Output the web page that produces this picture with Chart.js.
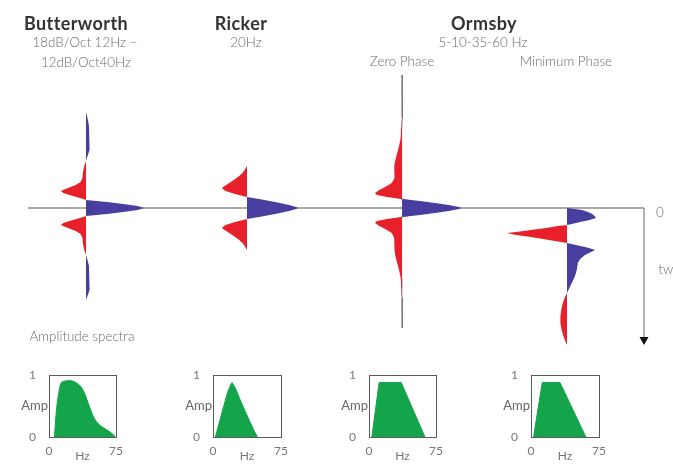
<!DOCTYPE html>
<html>
<head>
<meta charset="utf-8">
<script src="https://cdn.jsdelivr.net/npm/chart.js@4/dist/chart.umd.min.js"></script>
<style>
  html, body { margin:0; padding:0; background:#fff; overflow:hidden; }
  #wrap { position:relative; width:673px; height:466px; overflow:hidden; font-family: Lato, "Open Sans", sans-serif; }
  canvas { position:absolute; }
  .t { position:absolute; white-space:nowrap; transform:translate(-50%,-50%); line-height:1; }
  .h { font-weight:700; font-size:18px; color:#333; letter-spacing:0.4px; }
  .s { font-size:13.4px; color:#6a6a6a; font-weight:300; }
</style>
</head>
<body>
<div id="wrap">
  <canvas id="main"></canvas>
  <canvas id="sp0"></canvas>
  <canvas id="sp1"></canvas>
  <canvas id="sp2"></canvas>
  <canvas id="sp3"></canvas>
  <div class="t h" style="left:76px;top:23px">Butterworth</div>
  <div class="t s" style="left:85px;top:43px">18dB/Oct 12Hz –</div>
  <div class="t s" style="left:86px;top:63px">12dB/Oct40Hz</div>
  <div class="t h" style="left:241px;top:23px">Ricker</div>
  <div class="t s" style="left:246px;top:43px">20Hz</div>
  <div class="t h" style="left:484px;top:23px">Ormsby</div>
  <div class="t s" style="left:483px;top:43px">5-10-35-60 Hz</div>
  <div class="t s" style="left:402px;top:62px">Zero Phase</div>
  <div class="t s" style="left:566px;top:62px">Minimum Phase</div>
  <div class="t s" style="left:82px;top:337px">Amplitude spectra</div>
  <div class="t s" style="left:660px;top:213px">0</div>
  <div class="t s" style="left:668px;top:270px">twt</div>
</div>
<script>
// ---------- DATA ----------
// Wavelets: time (ms, 0 = the horizontal line) and normalised amplitude
const BW_T = [-96,-90,-82,-74,-66,-58,-52,-47,-42,-36,-30,-26,-23,-20,-17,-15,-12,-10,-8,-6,-4,-2,0,2,4,6,8,10,12,15,17,20,23,26,30,36,42,47,52,58,66,74,82,88,92];
const BW_A = [0,0.025,0.05,0.065,0.065,0.05,0.025,0,-0.03,-0.05,-0.06,-0.09,-0.17,-0.3,-0.42,-0.38,-0.22,-0.1,0,0.35,0.62,0.86,0.97,0.86,0.62,0.35,0,-0.1,-0.22,-0.38,-0.42,-0.3,-0.17,-0.09,-0.06,-0.05,-0.03,0,0.025,0.05,0.065,0.065,0.05,0.025,0];

const RK_T = [-42,-36,-32,-28,-24,-20,-17,-14,-11,-9,-7,-5,-3,-1,0,1,3,5,7,9,11,14,17,20,24,28,32,36,42];
const RK_A = [0,-0.06,-0.13,-0.22,-0.32,-0.42,-0.36,-0.2,0,0.2,0.38,0.55,0.7,0.82,0.85,0.82,0.7,0.55,0.38,0.2,0,-0.2,-0.36,-0.42,-0.32,-0.22,-0.13,-0.06,0];

const OZ_T = [-133,-120,-110,-100,-90,-80,-70,-62,-55,-48,-42,-36,-30,-25,-21,-18,-15,-13,-11,-9,-7,-5,-3,-1,0,1,3,5,7,9,11,13,15,18,21,25,30,36,42,48,55,62,70,80,90,100,110,120];
const OZ_A = [0,0.01,0.015,0.01,0,-0.01,-0.02,-0.05,-0.08,-0.11,-0.13,-0.12,-0.13,-0.17,-0.28,-0.38,-0.45,-0.42,-0.25,0,0.3,0.55,0.78,0.95,1.0,0.95,0.78,0.55,0.3,0,-0.25,-0.42,-0.45,-0.38,-0.28,-0.17,-0.13,-0.12,-0.13,-0.11,-0.08,-0.05,-0.02,-0.01,0,0.01,0.015,0];

const MP_T = [0,2,4,6,8,10,12,14,16,17,18,20,22,24,25,27,29,31,33,35,37,39,41,42,44,47,51,55,60,65,70,75,80,85,90,95,100,108,115,122,128,133,137];
const MP_A = [0,0.25,0.35,0.42,0.46,0.48,0.38,0.22,0.08,0,-0.15,-0.35,-0.6,-0.85,-1.0,-0.85,-0.6,-0.4,-0.2,0,0.15,0.3,0.42,0.47,0.4,0.3,0.22,0.18,0.17,0.15,0.12,0.08,0.04,0,-0.04,-0.07,-0.09,-0.11,-0.11,-0.09,-0.06,-0.03,0];

// Amplitude spectra: frequency (Hz) and amplitude (0..1)
const SP_BW_F = [6,8.5,11,13,16.6,20,25,29,33,36,40,45,50,55.5,61,68,74];
const SP_BW_A = [0,0.46,0.72,0.86,0.9,0.91,0.91,0.89,0.85,0.81,0.7,0.5,0.32,0.21,0.15,0.085,0.01];
const SP_RK_F = [2.6,10,16,20,21,25,30,35,40,45,49];
const SP_RK_A = [0,0.4,0.72,0.86,0.88,0.78,0.6,0.43,0.27,0.11,0];
const SP_OZ_F = [3.2,11.3,36.1,62.6];
const SP_OZ_A = [0,0.88,0.88,0];
const SP_MP_F = [2.8,12.4,32,60.5];
const SP_MP_A = [0,0.88,0.88,0];

const SPEC_X_TICKS = [0, 75];
const SPEC_Y_TICKS = [0, 1];

// ---------- LAYOUT / STYLE ----------
const W = 673, H = 466;
const TRACE_X = [86, 247, 402, 567];   // trace positions (layout units)
const GAIN = 60;                        // layout units per unit amplitude
const BLUE = 'rgb(72,62,160)';
const RED = 'rgb(232,32,42)';
const GREEN = 'rgb(20,165,74)';
const AXIS_LEFT = 28, AXIS_RIGHT = 644, TWT_END = 137;
const BOXES = [[49,120,363,437],[213,285,363,437],[369,440,363,437],[531,603,363,437]];

// ---------- MAIN WAVELET CHART ----------
const mainCanvas = document.getElementById('main');
mainCanvas.style.left = '0px'; mainCanvas.style.top = '0px';
mainCanvas.width = W; mainCanvas.height = H;

function parts(T, A, x0) {
  return {
    pos: T.map((t, i) => ({ x: x0 + GAIN * Math.max(A[i], 0), y: t })),
    neg: T.map((t, i) => ({ x: x0 + GAIN * Math.min(A[i], 0), y: t }))
  };
}
const waves = [[BW_T, BW_A], [RK_T, RK_A], [OZ_T, OZ_A], [MP_T, MP_A]];
const datasets = [];
waves.forEach(([T, A], k) => {
  const p = parts(T, A, TRACE_X[k]);
  datasets.push({ data: p.pos, showLine: true, fill: 'shape', backgroundColor: BLUE, borderColor: BLUE, borderWidth: 0, pointRadius: 0, tension: 0 });
  datasets.push({ data: p.neg, showLine: true, fill: 'shape', backgroundColor: RED, borderColor: RED, borderWidth: 0, pointRadius: 0, tension: 0 });
});
// thin gray trace line for the zero-phase Ormsby (drawn underneath)
datasets.push({ data: OZ_T.map((t, i) => ({ x: TRACE_X[2] + GAIN * OZ_A[i] * 0.5, y: t })), showLine: true, fill: false, borderColor: 'rgba(110,110,110,0.8)', borderWidth: 1, pointRadius: 0, tension: 0 });

const axisPlugin = {
  id: 'axisLines',
  beforeDatasetsDraw(chart) {
    const { ctx, scales: { x, y } } = chart;
    const y0 = y.getPixelForValue(0);
    ctx.save();
    ctx.strokeStyle = '#8c8c8c';
    ctx.lineWidth = 1.5;
    ctx.beginPath();
    ctx.moveTo(x.getPixelForValue(AXIS_LEFT), y0);
    ctx.lineTo(x.getPixelForValue(AXIS_RIGHT), y0);
    ctx.stroke();
    const xr = x.getPixelForValue(AXIS_RIGHT);
    const yEnd = y.getPixelForValue(TWT_END);
    ctx.strokeStyle = '#666';
    ctx.lineWidth = 1;
    ctx.beginPath();
    ctx.moveTo(xr, y0);
    ctx.lineTo(xr, yEnd - 6);
    ctx.stroke();
    ctx.fillStyle = '#111';
    ctx.beginPath();
    ctx.moveTo(xr - 4.5, yEnd - 8);
    ctx.lineTo(xr + 4.5, yEnd - 8);
    ctx.lineTo(xr, yEnd);
    ctx.closePath();
    ctx.fill();
    ctx.restore();
  }
};

new Chart(mainCanvas.getContext('2d'), {
  type: 'scatter',
  data: { datasets },
  options: {
    responsive: false,
    animation: false,
    events: [],
    layout: { padding: 0 },
    plugins: { legend: { display: false }, tooltip: { enabled: false } },
    scales: {
      x: { type: 'linear', display: false, min: 0, max: W },
      y: { type: 'linear', display: false, min: -208, max: H - 208, reverse: true }
    }
  },
  plugins: [axisPlugin]
});

// ---------- SPECTRA ----------
const specs = [[SP_BW_F, SP_BW_A, 0.4], [SP_RK_F, SP_RK_A, 0], [SP_OZ_F, SP_OZ_A, 0], [SP_MP_F, SP_MP_A, 0]];
const Y_AXIS_W = 40, X_AXIS_H = 26, PAD_TOP = 8, PAD_RIGHT = 10;

const boxPlugin = {
  id: 'box',
  afterDraw(chart) {
    const { ctx, chartArea: a } = chart;
    ctx.save();
    ctx.strokeStyle = '#5a5a5a';
    ctx.lineWidth = 1;
    ctx.strokeRect(Math.round(a.left) + 0.5, Math.round(a.top) + 0.5, Math.round(a.right - a.left), Math.round(a.bottom - a.top));
    ctx.fillStyle = '#666';
    ctx.font = '13px Lato, "Open Sans", sans-serif';
    ctx.textAlign = 'right';
    ctx.textBaseline = 'middle';
    ctx.fillText('Amp', a.left - 1, (a.top + a.bottom) / 2);
    ctx.restore();
  }
};

specs.forEach(([F, A, tens], k) => {
  const [bl, br, bt, bb] = BOXES[k];
  const cv = document.getElementById('sp' + k);
  cv.style.left = (bl - Y_AXIS_W) + 'px';
  cv.style.top = (bt - PAD_TOP) + 'px';
  cv.width = (br - bl) + Y_AXIS_W + PAD_RIGHT;
  cv.height = (bb - bt) + PAD_TOP + X_AXIS_H;
  const tickFont = { family: 'Lato, "Open Sans", sans-serif', size: 12 };
  new Chart(cv.getContext('2d'), {
    type: 'line',
    data: { datasets: [{
      data: F.map((f, i) => ({ x: f, y: A[i] })),
      fill: 'origin', backgroundColor: GREEN, borderColor: GREEN, borderWidth: 1,
      pointRadius: 0, tension: tens, cubicInterpolationMode: tens ? 'monotone' : 'default'
    }] },
    options: {
      responsive: false,
      animation: false,
      events: [],
      layout: { padding: { top: PAD_TOP, right: PAD_RIGHT, left: 0, bottom: 0 } },
      plugins: { legend: { display: false }, tooltip: { enabled: false } },
      scales: {
        x: {
          type: 'linear', min: 0, max: 75,
          grid: { display: false, drawTicks: false }, border: { display: false },
          afterBuildTicks: s => { s.ticks = SPEC_X_TICKS.map(v => ({ value: v })); },
          afterFit: s => { s.height = X_AXIS_H; },
          ticks: { color: '#777', font: tickFont, padding: 7, maxRotation: 0, autoSkip: false },
          title: { display: true, text: 'Hz', color: '#777', font: tickFont, padding: 0 }
        },
        y: {
          type: 'linear', min: 0, max: 1,
          grid: { display: false, drawTicks: false }, border: { display: false },
          afterBuildTicks: s => { s.ticks = SPEC_Y_TICKS.map(v => ({ value: v })); },
          afterFit: s => { s.width = Y_AXIS_W; },
          ticks: { color: '#777', font: tickFont, padding: 13, autoSkip: false }
        }
      }
    },
    plugins: [boxPlugin]
  });
});
</script>
</body>
</html>
